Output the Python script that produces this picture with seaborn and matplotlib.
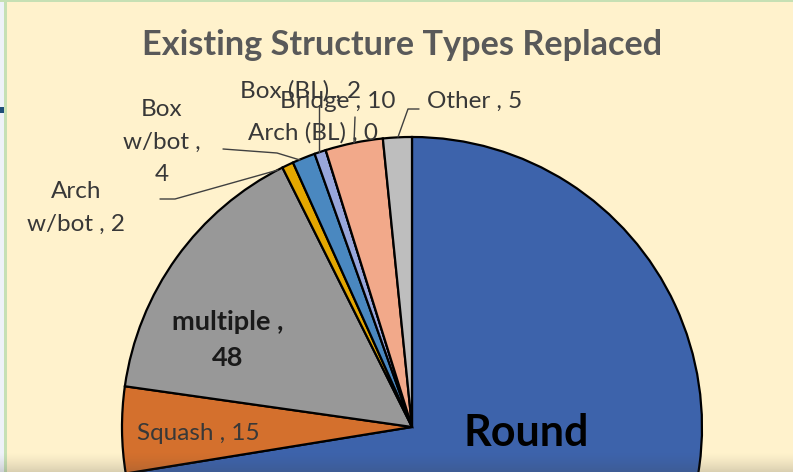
import numpy as np
import matplotlib
matplotlib.use("Agg")
import matplotlib.pyplot as plt
import seaborn as sns

# ---- data ----
categories = ["Round", "Squash", "multiple", "Arch w/bot", "Box w/bot",
              "Box (BL)", "Arch (BL)", "Bridge", "Other"]
values = [226, 15, 48, 2, 4, 2, 0, 10, 5]
title = "Existing Structure Types Replaced"

# ---- style ----
colors = ["#3D63AB", "#D4702D", "#989898", "#E4A700", "#4A88C0",
          "#98A6DB", "#7F7F7F", "#F2A98A", "#BEBEBE"]
sns.set_theme(style="white")
plt.rcParams['font.family'] = ['Lato', 'DejaVu Sans']

W, H = 793, 472
fig = plt.figure(figsize=(W / 100, H / 100), dpi=100)
bg = "#FFF2CC"
fig.patch.set_facecolor(bg)
ax = fig.add_axes([0, 0, 1, 1])
ax.set_facecolor(bg)


def Y(py):
    return H - py


cx, cy, R = 412, Y(427), 290
palette = sns.color_palette(colors)
wedges, _ = ax.pie(values, colors=palette, startangle=90, counterclock=False,
                   center=(cx, cy), radius=R, normalize=True,
                   wedgeprops=dict(edgecolor="black", linewidth=1.6))
ax.set_xlim(0, W)
ax.set_ylim(0, H)
ax.set_aspect('equal', adjustable='box')
ax.set_position([0, 0, 1, 1])
ax.axis('off')

lab_col = "#383838"
fs = 17.5
ls = 1.65

# title
ax.text(402, Y(45), title, ha="center", va="center", fontsize=24.7,
        fontweight="bold", color="#595959")

v = dict(zip(categories, values))
# labels
ax.text(475, Y(101), f"Other , {v['Other']}", ha="center", va="center",
        fontsize=fs, color=lab_col)
ax.text(338, Y(102), f"Bridge , {v['Bridge']}", ha="center", va="center",
        fontsize=fs, color=lab_col)
ax.text(301, Y(91), f"Box (BL) , {v['Box (BL)']}", ha="center", va="center",
        fontsize=fs, color=lab_col)
ax.text(313, Y(133), f"Arch (BL) , {v['Arch (BL)']}", ha="center", va="center",
        fontsize=fs, color=lab_col)
ax.text(162, Y(142), f"Box\nw/bot ,\n{v['Box w/bot']}", ha="center",
        va="center", fontsize=fs, color=lab_col, linespacing=ls)
ax.text(76, Y(208), f"Arch\nw/bot , {v['Arch w/bot']}", ha="center",
        va="center", fontsize=fs, color=lab_col, linespacing=ls)
ax.text(228, Y(340), f"multiple ,\n{v['multiple']}", ha="center",
        va="center", fontsize=19.5, color="#1a1a1a", fontweight="bold",
        linespacing=1.55)
ax.text(198, Y(433), f"Squash , {v['Squash']}", ha="center", va="center",
        fontsize=fs, color=lab_col)
ax.text(526, Y(433), "Round", ha="center", va="center", fontsize=31,
        fontweight="bold", color="black")

# leader lines
lc = "#404040"
for pts in [[(398, 137), (408, 109), (419, 109)],
            [(354, 143), (355, 117)],
            [(319, 152), (319, 105)],
            [(300, 160), (277, 153), (223, 149)],
            [(278, 170), (175, 199), (160, 199)]]:
    xs = [p[0] for p in pts]
    ys = [Y(p[1]) for p in pts]
    ax.plot(xs, ys, color=lc, lw=1.0, zorder=5)

# frame decorations
ax.add_patch(plt.Rectangle((0, 0), 4, H, color="#EEF2F8", zorder=6, lw=0))
ax.add_patch(plt.Rectangle((4, 0), 3, H, color="#C6E0B4", zorder=6, lw=0))
ax.add_patch(plt.Rectangle((0, Y(2)), W, 2, color="#C6E0B4", zorder=6, lw=0))
ax.add_patch(plt.Rectangle((0, Y(113)), 4, 6, color="#1F4E79", zorder=7, lw=0))

# bottom shading
grad = np.zeros((20, 2, 4))
alpha = np.linspace(0, 0.28, 20) ** 1.3
grad[:, :, 3] = alpha[:, None]
grad[:, :, :3] = 0.25
ax.imshow(grad, extent=(0, W, Y(472), Y(452)), origin="upper",
          aspect="auto", zorder=8)
ax.set_xlim(0, W)
ax.set_ylim(0, H)

fig.savefig("out.png", dpi=100, facecolor=bg)
